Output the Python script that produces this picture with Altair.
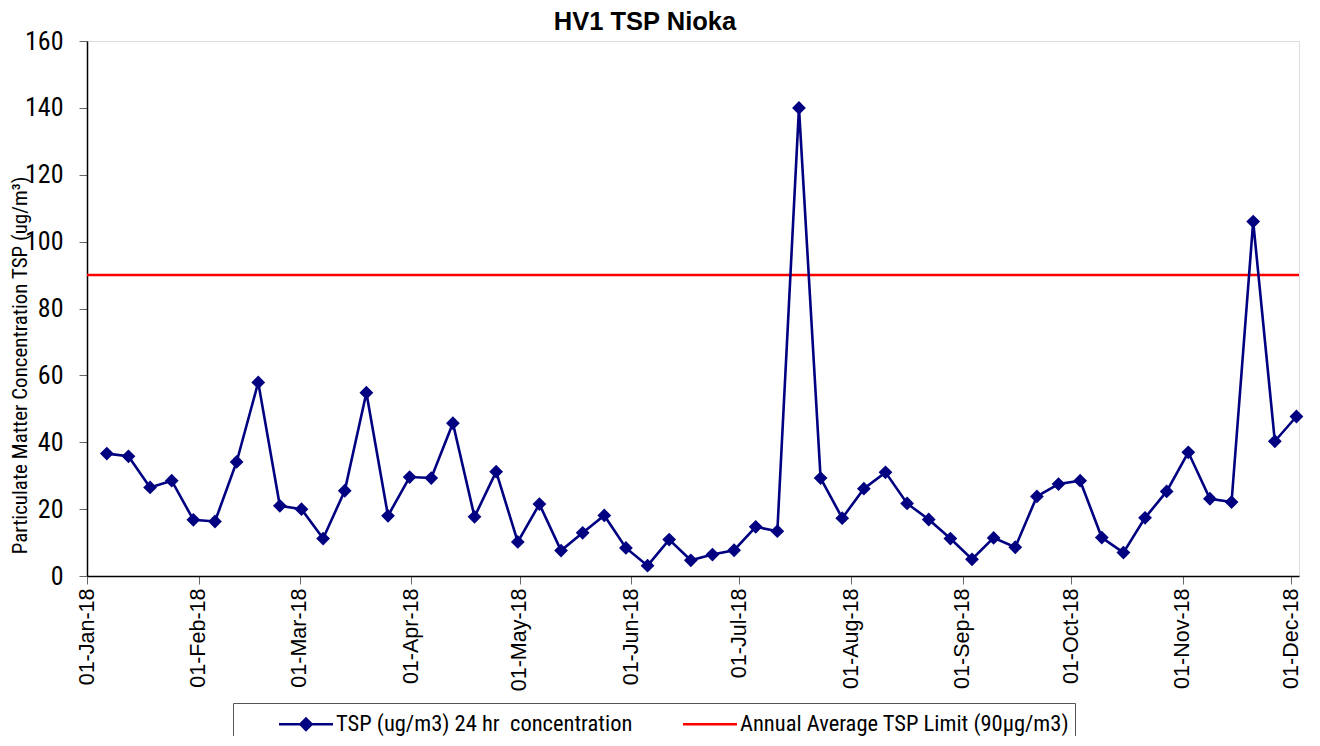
import altair as alt
import pandas as pd

# ---- data ----
dates = [
    "2018-01-06", "2018-01-12", "2018-01-18", "2018-01-24", "2018-01-30",
    "2018-02-05", "2018-02-11", "2018-02-17", "2018-02-23", "2018-03-01",
    "2018-03-07", "2018-03-13", "2018-03-19", "2018-03-25", "2018-03-31",
    "2018-04-06", "2018-04-12", "2018-04-18", "2018-04-24", "2018-04-30",
    "2018-05-06", "2018-05-12", "2018-05-18", "2018-05-24", "2018-05-30",
    "2018-06-05", "2018-06-11", "2018-06-17", "2018-06-23", "2018-06-29",
    "2018-07-05", "2018-07-11", "2018-07-17", "2018-07-23", "2018-07-29",
    "2018-08-04", "2018-08-10", "2018-08-16", "2018-08-22", "2018-08-28",
    "2018-09-03", "2018-09-09", "2018-09-15", "2018-09-21", "2018-09-27",
    "2018-10-03", "2018-10-09", "2018-10-15", "2018-10-21", "2018-10-27",
    "2018-11-02", "2018-11-08", "2018-11-14", "2018-11-20", "2018-11-26",
    "2018-12-02",
]
tsp = [
    36.6, 35.8, 26.5, 28.5, 16.8, 16.3, 34.1, 57.9, 21.0, 20.0,
    11.2, 25.5, 54.8, 18.0, 29.6, 29.3, 45.7, 17.7, 31.2, 10.2,
    21.5, 7.6, 12.9, 18.1, 8.4, 3.1, 10.9, 4.7, 6.4, 7.7,
    14.7, 13.4, 140.0, 29.3, 17.3, 26.1, 31.0, 21.7, 16.9, 11.2,
    5.0, 11.4, 8.6, 23.8, 27.5, 28.5, 11.5, 7.0, 17.4, 25.3,
    37.0, 23.1, 22.1, 106.0, 40.3, 47.7,
]
limit = [90]
series_names = ["TSP (ug/m3) 24 hr\u00a0 concentration", "Annual Average TSP Limit (90µg/m3)"]
series_colors = ["#000080", "#FF0000"]
y_ticks = [0, 20, 40, 60, 80, 100, 120, 140, 160]
month_ticks = list(range(1, 13))

NARROW = "Liberation Sans Narrow, Arial Narrow, Roboto Condensed, DejaVu Sans Condensed, sans-serif"
ARIAL = "Liberation Sans, Arial, sans-serif"

df = pd.DataFrame({"date": [d + "T12:00:00" for d in dates], "tsp": tsp})
df_limit = pd.DataFrame({"limit": limit})
df_series = pd.DataFrame({"series": series_names})

x_scale = alt.Scale(domain=[alt.DateTime(year=2018, month=1, date=1),
                            alt.DateTime(year=2018, month=12, date=3, hours=5)])
y_scale = alt.Scale(domain=[0, 160], nice=False, zero=True)

x_axis = alt.Axis(
    values=[alt.DateTime(year=2018, month=m, date=1) for m in month_ticks],
    format="%d-%b-%y", labelAngle=270, labelAlign="right", labelBaseline="middle",
    labelFont=ARIAL, labelFontSize=21.5, labelColor="black", labelPadding=4,
    labelOverlap=False, labelBound=False, labelFlush=False,
    tickColor="#666666", tickSize=8, tickWidth=1,
    domainColor="black", domainWidth=1.5, grid=False, title=None,
)
y_axis = alt.Axis(
    values=y_ticks, labelFont=NARROW, labelFontSize=26, labelColor="black",
    labelPadding=16, tickColor="#666666", tickSize=8, tickWidth=1,
    domainColor="black", domainWidth=1.5, grid=False,
    title="Particulate Matter Concentration TSP (ug/m³)",
    titleFont=NARROW, titleFontSize=21, titleFontWeight="normal", titleColor="black",
    titleAngle=270, titleAlign="center", titleBaseline="middle",
    titleX=-67, titleY=324,
)

line = alt.Chart(df).mark_line(color="#000080", strokeWidth=2.6).encode(
    x=alt.X("date:T", scale=x_scale, axis=x_axis),
    y=alt.Y("tsp:Q", scale=y_scale, axis=y_axis),
)
points = alt.Chart(df).mark_point(shape="diamond", filled=True, size=190,
                                  color="#000080", opacity=1).encode(
    x="date:T", y="tsp:Q",
)
rule = alt.Chart(df_limit).mark_rule(color="#FF0000", strokeWidth=2.5).encode(
    y="limit:Q",
)

# legend symbols: slot of 30px, drawn 54px wide (line + diamond / plain line)
path_tsp = "M-1.8,-0.09L-0.41,-0.09L0,-0.5L0.41,-0.09L1.8,-0.09L1.8,0.09L0.41,0.09L0,0.5L-0.41,0.09L-1.8,0.09Z"
path_lim = "M-1.8,-0.09L1.8,-0.09L1.8,0.09L-1.8,0.09Z"

leg = alt.Legend(
    title=None, orient="none", legendX=146, legendY=662, direction="horizontal",
    labelFont=NARROW, labelFontSize=22.5, labelColor="black", labelLimit=800,
    symbolSize=900, symbolStrokeWidth=0, symbolOffset=52, labelOffset=15,
    columnPadding=10, padding=6, strokeColor="#555555", fillColor="white",
)
legend_layer = alt.Chart(df_series).transform_filter("false").mark_point(
    filled=True, opacity=1
).encode(
    color=alt.Color("series:N", scale=alt.Scale(domain=series_names, range=series_colors), legend=leg),
    shape=alt.Shape("series:N", scale=alt.Scale(domain=series_names, range=[path_tsp, path_lim]), legend=leg),
)

chart = alt.layer(rule, line, points, legend_layer).properties(
    width=1212, height=535,
    title=alt.Title("HV1 TSP Nioka", font=ARIAL, fontSize=25.5, fontWeight="bold",
                    color="black", anchor="middle", dx=-48, dy=16, offset=9),
    autosize=alt.AutoSizeParams(type="none"),
    padding={"left": 79, "top": 33, "right": 12, "bottom": 160},
).configure_view(
    fill="#C0C0C0", stroke="#808080", strokeWidth=2,
).configure(background="white")

chart.save("out.html", embed_options={"renderer": "svg", "actions": False})
